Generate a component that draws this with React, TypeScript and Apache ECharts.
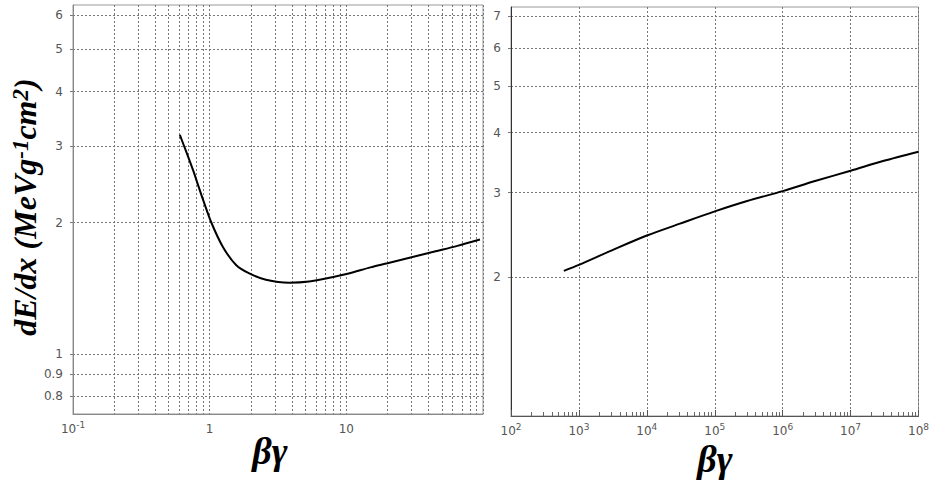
import React, { useEffect, useRef } from 'react';
import * as echarts from 'echarts';

// ---- data ----
const leftBetaGamma = [0.605, 0.68, 0.756, 0.83, 0.894, 1.03, 1.25, 1.56, 1.95, 2.58, 3.82, 5.34, 7.88, 10.4, 15, 20, 30, 45, 65, 95];
const leftDedx = [3.18, 2.89, 2.64, 2.42, 2.26, 2.0, 1.76, 1.6, 1.53, 1.48, 1.457, 1.466, 1.5, 1.53, 1.58, 1.615, 1.667, 1.72, 1.77, 1.83];

const rightBetaGamma = [600, 1e3, 3e3, 1e4, 3e4, 1e5, 3e5, 1e6, 3e6, 1e7, 3e7, 1e8];
const rightDedx = [2.06, 2.12, 2.27, 2.44, 2.58, 2.74, 2.88, 3.02, 3.17, 3.33, 3.49, 3.65];

// ---- axes / ticks ----
const leftXRange = [0.1, 100];
const leftYRange = [0.728, 6.32];
const leftXGridValues = [0.1, 0.2, 0.3, 0.4, 0.5, 0.6, 0.7, 0.8, 0.9, 1, 2, 3, 4, 5, 6, 7, 8, 9, 10, 20, 30, 40, 50, 60, 70, 80, 90, 100];
const leftXLabelValues = [0.1, 1, 10];
const leftXLabelTexts = ['{b|10}{sup|-1}', '{b|1}', '{b|10}'];
const leftYTickValues = [0.8, 0.9, 1, 2, 3, 4, 5, 6];
const leftYTickLabels = ['0.8', '0.9', '1', '2', '3', '4', '5', '6'];

const rightXRange = [1e2, 1e8];
const rightYRange = [1.026, 7.31];
const rightXDecades = [1e2, 1e3, 1e4, 1e5, 1e6, 1e7, 1e8];
const rightXDecadeLabels = ['{b|10}{sup|2}', '{b|10}{sup|3}', '{b|10}{sup|4}', '{b|10}{sup|5}', '{b|10}{sup|6}', '{b|10}{sup|7}', '{b|10}{sup|8}'];
const minorMultipliers = [2, 3, 4, 5, 6, 7, 8, 9];
const rightYTickValues = [2, 3, 4, 5, 6, 7];
const rightYTickLabels = ['2', '3', '4', '5', '6', '7'];

const lg = (v: number) => Math.log10(v);

function makeFormatter(values: number[], texts: string[]) {
  const logs = values.map(lg);
  return (val: number) => {
    let best = 0;
    let d = Infinity;
    logs.forEach((l, i) => {
      const dd = Math.abs(l - val);
      if (dd < d) { d = dd; best = i; }
    });
    return texts[best];
  };
}

const labelColor = '#555';
const labelFont = 'DejaVu Sans';
const gridLine = { show: true, lineStyle: { color: '#777', width: 1, type: [2, 2] as number[] } };

function xLabel(values: number[], texts: string[]) {
  return {
    customValues: values.map(lg),
    formatter: makeFormatter(values, texts),
    color: labelColor,
    fontSize: 12,
    fontFamily: labelFont,
    margin: 6,
    showMinLabel: true,
    showMaxLabel: true,
    rich: {
      b: { fontSize: 12, color: labelColor, fontFamily: labelFont, lineHeight: 15, verticalAlign: 'bottom' as const },
      sup: { fontSize: 9, color: labelColor, fontFamily: labelFont, lineHeight: 7, verticalAlign: 'top' as const },
    },
  };
}

function yLabel(values: number[], texts: string[]) {
  return {
    customValues: values.map(lg),
    formatter: makeFormatter(values, texts),
    color: labelColor,
    fontSize: 12,
    fontFamily: labelFont,
    margin: 10,
    showMinLabel: true,
    showMaxLabel: true,
  };
}

export default function App() {
  const ref = useRef<HTMLDivElement>(null);

  useEffect(() => {
    if (!ref.current) return;
    const chart = echarts.init(ref.current, undefined, { renderer: 'svg' });

    const rightMinor: number[] = [];
    rightXDecades.slice(0, -1).forEach((d) => minorMultipliers.forEach((m) => rightMinor.push(d * m)));

    const titleFont = 'Liberation Serif';

    const option: any = {
      animation: false,
      backgroundColor: '#ffffff',
      grid: [
        { left: 73, top: 5, width: 410, height: 409, show: true, borderColor: '#999', borderWidth: 1, backgroundColor: 'transparent' },
        { left: 511, top: 7, width: 409, height: 409, show: true, borderColor: '#999', borderWidth: 1, backgroundColor: 'transparent' },
      ],
      xAxis: [
        {
          type: 'value', gridIndex: 0, min: lg(leftXRange[0]), max: lg(leftXRange[1]),
          axisLine: { show: true, onZero: false, lineStyle: { color: '#888' } },
          axisTick: { show: false, customValues: leftXGridValues.map(lg) },
          splitLine: gridLine,
          axisLabel: xLabel(leftXLabelValues, leftXLabelTexts),
        },
        {
          type: 'value', gridIndex: 1, min: lg(rightXRange[0]), max: lg(rightXRange[1]),
          axisLine: { show: true, onZero: false, lineStyle: { color: '#555' } },
          axisTick: { show: true, inside: true, length: 6, customValues: rightXDecades.map(lg), lineStyle: { color: '#555' } },
          splitLine: gridLine,
          axisLabel: xLabel(rightXDecades, rightXDecadeLabels),
        },
        {
          type: 'value', gridIndex: 1, position: 'bottom', offset: 0, min: lg(rightXRange[0]), max: lg(rightXRange[1]),
          axisLine: { show: false, onZero: false },
          axisTick: { show: true, inside: true, length: 4, customValues: rightMinor.map(lg), lineStyle: { color: '#666' } },
          splitLine: { show: false },
          axisLabel: { show: false },
        },
      ],
      yAxis: [
        {
          type: 'value', gridIndex: 0, min: lg(leftYRange[0]), max: lg(leftYRange[1]),
          axisLine: { show: true, onZero: false, lineStyle: { color: '#888' } },
          axisTick: { show: true, length: 3, customValues: leftYTickValues.map(lg), lineStyle: { color: '#777' } },
          splitLine: gridLine,
          axisLabel: yLabel(leftYTickValues, leftYTickLabels),
        },
        {
          type: 'value', gridIndex: 1, min: lg(rightYRange[0]), max: lg(rightYRange[1]),
          axisLine: { show: true, onZero: false, lineStyle: { color: '#333' } },
          axisTick: { show: true, length: 3, customValues: rightYTickValues.map(lg), lineStyle: { color: '#777' } },
          splitLine: gridLine,
          axisLabel: yLabel(rightYTickValues, rightYTickLabels),
        },
      ],
      series: [
        {
          type: 'line', xAxisIndex: 0, yAxisIndex: 0, showSymbol: false, smooth: 0.3,
          lineStyle: { color: '#000', width: 2 },
          data: leftBetaGamma.map((b, i) => [lg(b), lg(leftDedx[i])]),
        },
        {
          type: 'line', xAxisIndex: 1, yAxisIndex: 1, showSymbol: false, smooth: 0.3,
          lineStyle: { color: '#000', width: 2 },
          data: rightBetaGamma.map((b, i) => [lg(b), lg(rightDedx[i])]),
        },
      ],
      graphic: [
        {
          type: 'text', x: 25, y: 207, rotation: Math.PI / 2,
          style: {
            text: 'dE/dx (MeVg{sup|-1}cm{sup|2})',
            fontFamily: titleFont, fontSize: 32, fontWeight: 'bold', fontStyle: 'italic', fill: '#000',
            align: 'center', verticalAlign: 'middle',
            rich: { sup: { fontFamily: titleFont, fontSize: 23, fontWeight: 'bold', fontStyle: 'italic', fill: '#000', verticalAlign: 'top' } },
          },
        },
        {
          type: 'text', x: 270, y: 451,
          style: { text: 'βγ', fontFamily: titleFont, fontSize: 38, lineHeight: 28, fontWeight: 'bold', fontStyle: 'italic', fill: '#000', align: 'center', verticalAlign: 'middle' },
        },
        {
          type: 'text', x: 715, y: 459,
          style: { text: 'βγ', fontFamily: titleFont, fontSize: 38, lineHeight: 28, fontWeight: 'bold', fontStyle: 'italic', fill: '#000', align: 'center', verticalAlign: 'middle' },
        },
      ],
    };

    chart.setOption(option);
    return () => chart.dispose();
  }, []);

  return <div ref={ref} style={{ position: 'fixed', left: 0, top: 0, width: 932, height: 480, background: '#fff' }} />;
}
